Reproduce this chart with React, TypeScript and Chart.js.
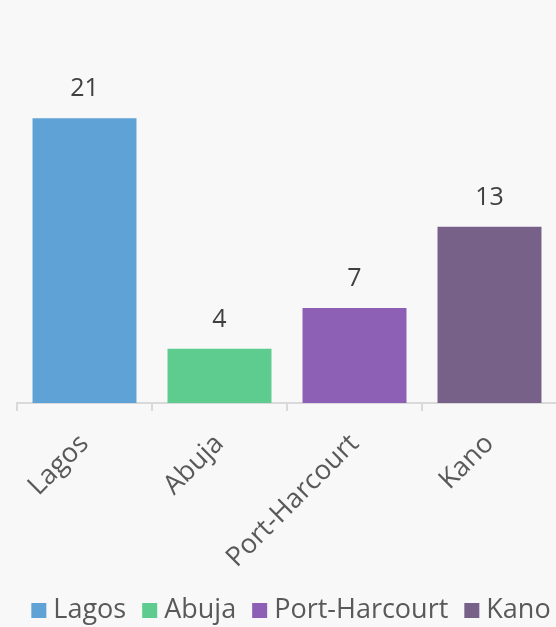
import React, { useEffect, useRef } from "react";
import { Chart, registerables } from "chart.js";

Chart.register(...registerables);

const categories = ["Lagos", "Abuja", "Port-Harcourt", "Kano"];
const values = [21, 4, 7, 13];
const colors = ["#5fa3d6", "#5ecb8f", "#8d5fb5", "#776189"];

const FONT = "'Open Sans', 'Noto Sans', sans-serif";

const valueLabels = {
  id: "valueLabels",
  afterDatasetsDraw(chart: any) {
    const ctx = chart.ctx;
    const meta = chart.getDatasetMeta(0);
    ctx.save();
    ctx.font = `25px ${FONT}`;
    ctx.fillStyle = "#404040";
    ctx.textAlign = "center";
    ctx.textBaseline = "alphabetic";
    meta.data.forEach((bar: any, i: number) => {
      ctx.fillText(String(values[i]), bar.x, bar.y - 22);
    });
    ctx.restore();
  },
};

const bottomLegend = {
  id: "bottomLegend",
  afterDraw(chart: any) {
    const ctx = chart.ctx;
    ctx.save();
    ctx.font = `27px ${FONT}`;
    ctx.textBaseline = "alphabetic";
    ctx.textAlign = "left";
    const box = 15;
    const gapText = 7;
    const gapItem = 16;
    const widths = categories.map((c) => ctx.measureText(c).width);
    const total =
      widths.reduce((s, w) => s + box + gapText + w, 0) +
      gapItem * (categories.length - 1);
    let x = chart.width / 2 - total / 2;
    const baseline = chart.height - 9;
    categories.forEach((c, i) => {
      ctx.fillStyle = colors[i];
      ctx.fillRect(x, baseline - 15, box, box);
      x += box + gapText;
      ctx.fillStyle = "#595959";
      ctx.fillText(c, x, baseline);
      x += widths[i] + gapItem;
    });
    ctx.restore();
  },
};

export default function App() {
  const ref = useRef<HTMLCanvasElement>(null);
  useEffect(() => {
    if (!ref.current) return;
    const chart = new Chart(ref.current, {
      type: "bar",
      data: {
        labels: categories,
        datasets: [
          {
            data: values,
            backgroundColor: colors,
            barPercentage: 0.77,
            categoryPercentage: 1,
          },
        ],
      },
      options: {
        animation: false,
        responsive: false,
        maintainAspectRatio: false,
        layout: { padding: { left: 17, right: 25, top: 64, bottom: 36 } },
        plugins: {
          legend: { display: false },
          tooltip: { enabled: false },
        },
        scales: {
          x: {
            grid: {
              display: true,
              drawOnChartArea: false,
              drawTicks: true,
              tickLength: 8,
              color: "#d9d9d9",
              lineWidth: 2,
              offset: true,
            },
            border: { display: true, color: "#d9d9d9", width: 2 },
            ticks: {
              color: "#595959",
              font: { family: FONT, size: 27 },
              minRotation: 45,
              maxRotation: 45,
              autoSkip: false,
              padding: 17,
            },
          },
          y: { display: false, min: 0, max: 25 },
        },
      },
      plugins: [valueLabels, bottomLegend],
    });
    return () => chart.destroy();
  }, []);
  return (
    <div
      style={{
        position: "fixed",
        left: 0,
        top: 0,
        width: 556,
        height: 627,
        background: "#f8f8f8",
        overflow: "hidden",
      }}
    >
      <canvas
        ref={ref}
        width={582}
        height={627}
        style={{ position: "absolute", left: 0, top: 0, display: "block" }}
      />
    </div>
  );
}
